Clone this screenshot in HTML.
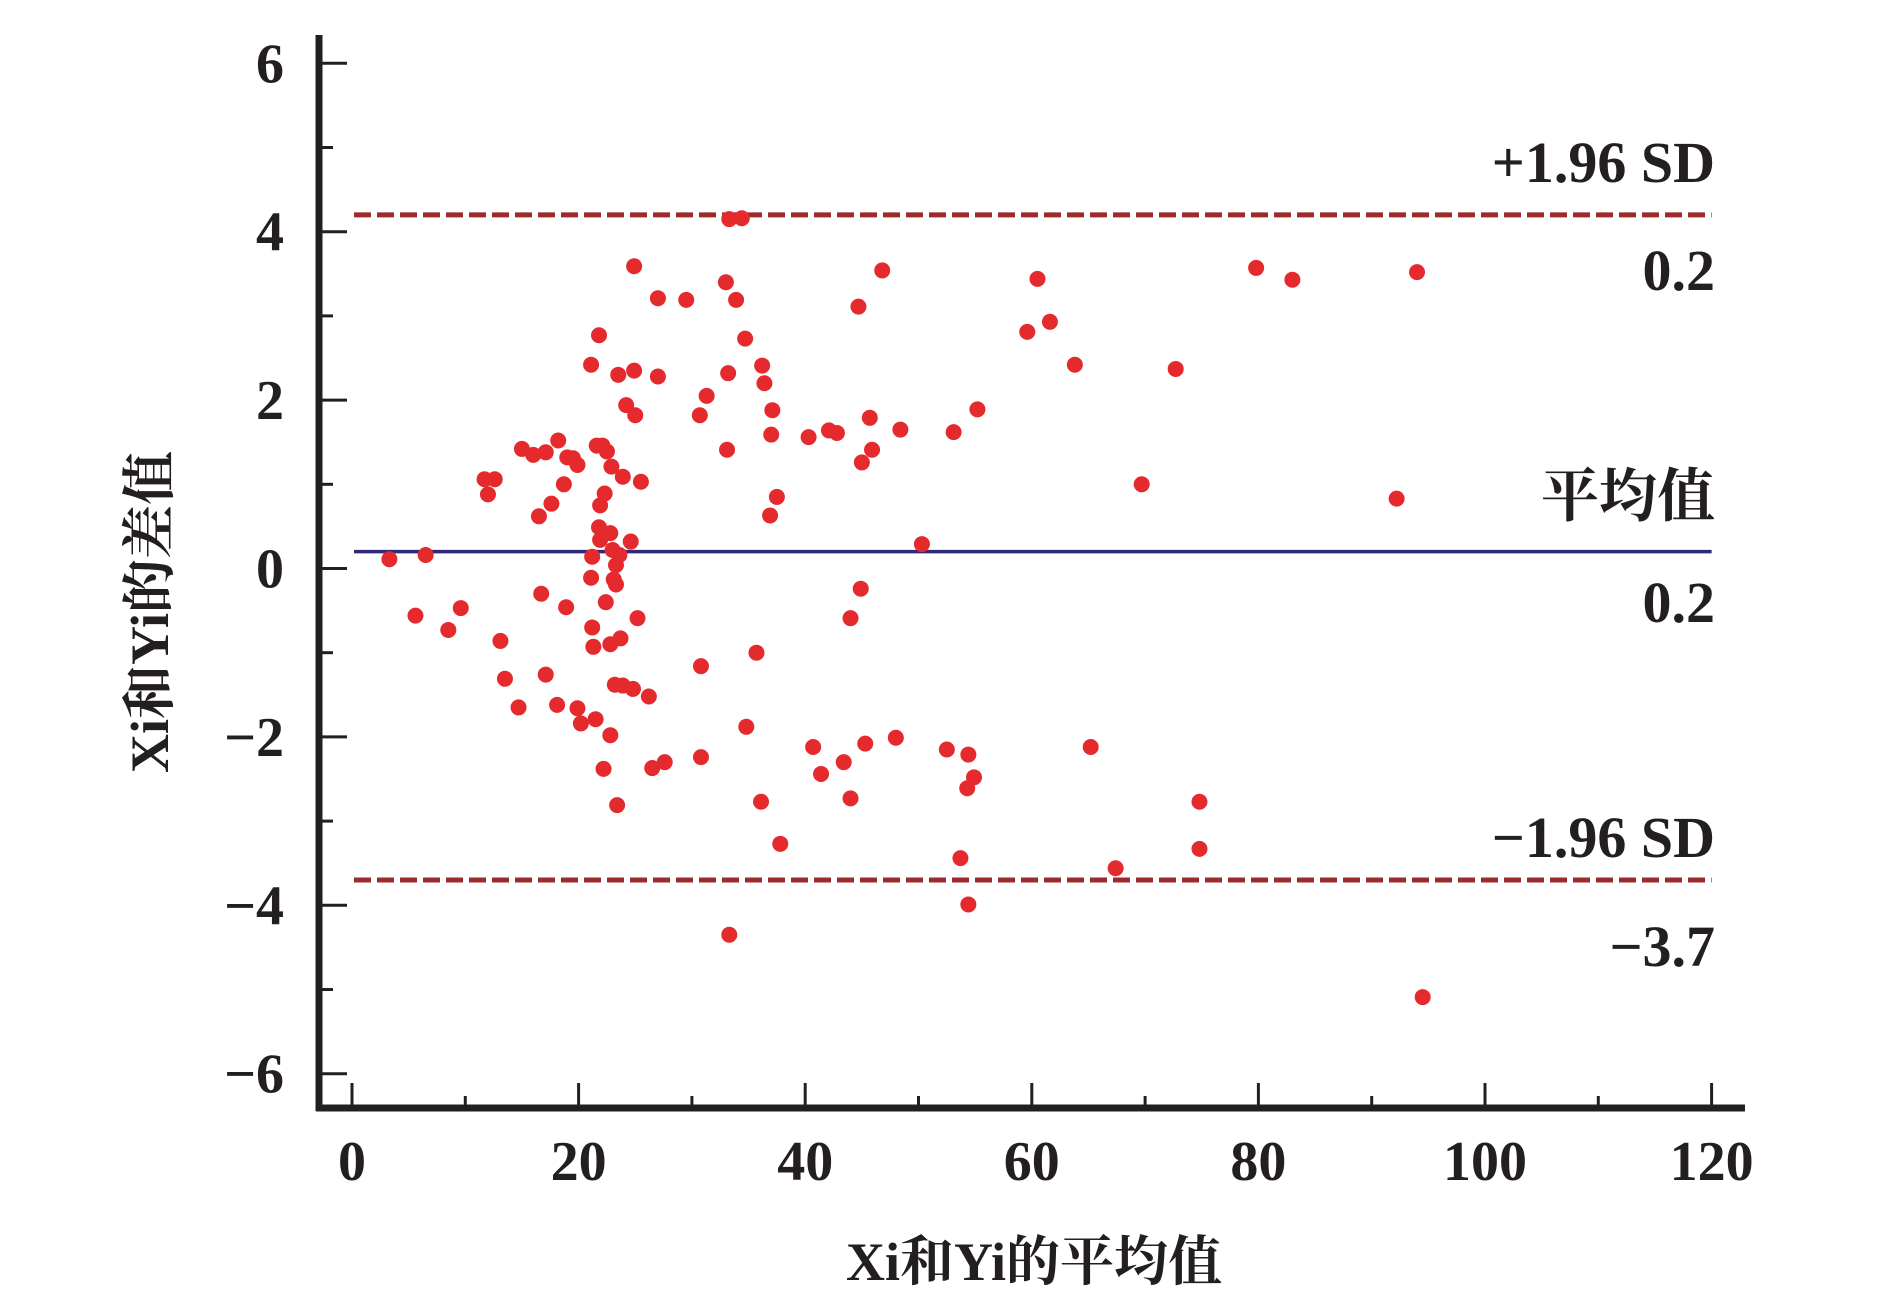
<!DOCTYPE html>
<html><head><meta charset="utf-8"><style>
html,body{margin:0;padding:0;background:#fff;}
svg{display:block;}
text{font-family:"Liberation Serif","Noto Serif CJK SC",serif;fill:#231f20;}
</style></head><body>
<svg id="chart" width="1890" height="1309" viewBox="0 0 1890 1309" xmlns="http://www.w3.org/2000/svg">
<g id="axes"></g>
<g id="refs"></g>
<g id="pts"></g>
<g id="labels"></g>
</svg>
<script>
const xTicks=[0,20,40,60,80,100,120];
const yTicks=[6,4,2,0,-2,-4,-6];
const yTickLabels=["6","4","2","0","\u22122","\u22124","\u22126"];
const meanDiff=0.2;
const upperLoA=4.2;
const lowerLoA=-3.7;
const xVals=[3.3,5.6,6.5,8.5,9.6,11.7,12.0,12.6,13.1,13.5,14.7,15.0,16.0,16.5,16.7,17.1,17.1,17.6,18.1,18.2,18.7,19.0,18.9,19.5,19.9,19.9,20.2,21.1,21.2,21.1,21.2,21.3,21.5,21.6,21.8,21.9,21.8,21.9,22.1,22.2,22.3,22.4,22.5,22.8,22.8,22.8,22.9,23.0,23.1,23.2,23.3,23.3,23.4,23.5,23.6,23.7,23.9,23.9,24.2,24.6,24.8,24.9,24.9,25.0,25.2,25.5,26.2,26.5,27.0,27.0,27.6,29.5,30.8,30.7,30.8,31.3,33.0,33.1,33.2,33.3,33.3,33.9,34.4,34.7,34.8,35.7,36.1,36.2,36.4,36.9,37.0,37.1,37.5,37.8,40.3,40.7,41.4,42.1,42.8,43.4,44.0,44.0,44.9,44.7,45.0,45.3,45.7,45.9,46.8,48.0,48.4,50.3,52.5,53.1,53.7,54.3,54.4,54.4,54.9,55.2,59.6,60.5,61.6,63.8,65.2,67.4,69.7,72.7,74.8,74.8,79.8,83.0,92.2,94.0,94.5];
const yVals=[0.11,-0.56,0.16,-0.73,-0.47,1.06,0.88,1.06,-0.86,-1.31,-1.65,1.42,1.35,0.62,-0.30,1.38,-1.26,0.77,-1.62,1.52,1.00,1.32,-0.46,1.31,1.23,-1.66,-1.84,2.42,0.14,-0.11,-0.70,-0.93,-1.79,1.46,2.77,0.34,0.49,0.75,1.46,-2.38,0.89,-0.40,1.39,0.42,-0.90,-1.98,1.21,0.22,-0.13,-1.38,0.04,-0.19,-2.81,2.30,0.16,-0.83,1.09,-1.39,1.94,0.32,-1.43,2.35,3.59,1.82,-0.59,1.03,-1.52,-2.37,3.21,2.28,-2.30,3.19,-1.16,1.82,-2.24,2.05,3.40,1.41,2.32,-4.35,4.15,3.19,4.16,2.73,-1.88,-1.00,-2.77,2.41,2.20,0.63,1.59,1.88,0.85,-3.27,1.56,-2.12,-2.44,1.64,1.61,-2.30,-2.73,-0.59,-0.24,3.11,1.26,-2.08,1.79,1.41,3.54,-2.01,1.65,0.29,-2.15,1.62,-3.44,-2.61,-2.21,-3.99,-2.48,1.89,2.81,3.44,2.93,2.42,-2.12,-3.56,1.00,2.37,-2.77,-3.33,3.57,3.43,0.83,3.52,-5.09];

const NS="http://www.w3.org/2000/svg";
const X=v=>352+v*11.33;
const Y=v=>568.5-v*84.2;
const AXY=1108;
function mk(parent,tag,attrs,txt){const e=document.createElementNS(NS,tag);for(const k in attrs)e.setAttribute(k,attrs[k]);if(txt!==undefined)e.textContent=txt;parent.appendChild(e);return e;}
const axes=document.getElementById('axes');
let e;
e=mk(axes,'line',{x1:319,y1:35,x2:319,y2:AXY+3,stroke:'#231f20','stroke-width':7});


e=mk(axes,'line',{x1:316,y1:AXY,x2:1745,y2:AXY,stroke:'#231f20','stroke-width':7});


for(let v=-6;v<=6;v++){
  const maj=v%2===0;
  e=mk(axes,'line',{x1:319,y1:Y(v),x2:maj?347:333,y2:Y(v),stroke:'#231f20','stroke-width':3});
  
  
}
for(let v=0;v<=120;v+=10){
  const maj=v%20===0;
  e=mk(axes,'line',{x1:X(v),y1:AXY,x2:X(v),y2:maj?AXY-25:AXY-12,stroke:'#231f20','stroke-width':3});
  
  
}
const lab=document.getElementById('labels');
yTicks.forEach((v,i)=>{
  e=mk(lab,'text',{x:284,y:Y(v)+19,'text-anchor':'end','font-size':56,'font-weight':'bold'},yTickLabels[i]);
  
  
});
xTicks.forEach(v=>{
  e=mk(lab,'text',{x:X(v),y:1180,'text-anchor':'middle','font-size':56,'font-weight':'bold'},String(v));
  
  
});
const refs=document.getElementById('refs');
e=mk(refs,'line',{x1:X(0)+2,y1:Y(upperLoA),x2:X(120),y2:Y(upperLoA),stroke:'#9b2b2b','stroke-width':5,'stroke-dasharray':'17 6'});


e=mk(refs,'line',{x1:X(0)+2,y1:Y(lowerLoA),x2:X(120),y2:Y(lowerLoA),stroke:'#9b2b2b','stroke-width':5,'stroke-dasharray':'17 6'});


e=mk(refs,'line',{x1:X(0)+2,y1:Y(meanDiff),x2:X(120),y2:Y(meanDiff),stroke:'#2e2a78','stroke-width':3.5});


const pts=document.getElementById('pts');
xVals.forEach((xv,i)=>{
  e=mk(pts,'circle',{cx:X(xv),cy:Y(yVals[i]),r:8,fill:'#e52a2e'});
  
  
});
const side=[["+1.96 SD",182,'upper-limit-title'],["0.2",290,'upper-limit-value'],["平均值",516,'mean-title'],["0.2",622,'mean-value'],["\u22121.96 SD",857,'lower-limit-title'],["\u22123.7",966,'lower-limit-value']];
side.forEach(s=>{
  e=mk(lab,'text',{x:1715,y:s[1],'text-anchor':'end','font-size':58,'font-weight':'bold'},s[0]);
  
  
});
e=mk(lab,'text',{x:1034,y:1280,'text-anchor':'middle','font-size':54,'font-weight':'bold'},"Xi和Yi的平均值");


e=mk(lab,'text',{x:0,y:0,'text-anchor':'middle','font-size':54,'font-weight':'bold',transform:'translate(168,612) rotate(-90)'},"Xi和Yi的差值");


</script>
</body></html>
